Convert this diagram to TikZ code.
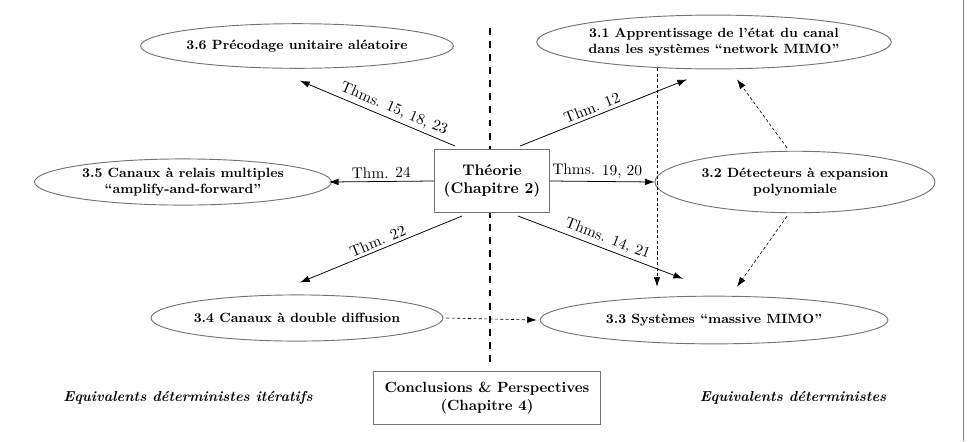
\documentclass[tikz,border=0pt]{standalone}
\usetikzlibrary{shapes.geometric,arrows.meta,calc}
\begin{document}
\begin{tikzpicture}[x=0.65pt,y=-0.65pt,
  ell/.style={ellipse, draw=black!55, line width=0.6pt, inner sep=0pt, align=center, font=\fontsize{8.7}{10.6}\selectfont\bfseries},
  boxnode/.style={rectangle, draw=black!55, line width=0.6pt, fill=white, align=center, font=\bfseries},
  arr/.style={-{Latex[length=2.2mm,width=1.5mm]}, line width=0.5pt},
  darr/.style={-{Latex[length=2.2mm,width=1.5mm]}, line width=0.4pt, dash pattern=on 2pt off 1.5pt},
  lbl/.style={sloped, above, font=\normalsize, inner sep=2pt},
  sidetxt/.style={font=\fontsize{9.4}{11}\selectfont\bfseries\itshape}]
\useasboundingbox (0,0) rectangle (972,441);
% frame line at right
\coordinate (rt) at (963,0);
\coordinate (rb) at (963,441);
\draw[black!50, line width=0.6pt] (rt) -- (rb);
% central dashed separator
\coordinate (dtop) at (490,28);
\coordinate (dbot) at (490,368);
\draw[line width=1.1pt, dash pattern=on 4.5pt off 4pt] (dtop) -- (dbot);

\node[boxnode, minimum width=75pt, minimum height=41pt] (th) at (492,181) {Th\'eorie\\(Chapitre 2)};
\node[boxnode, minimum width=148pt, minimum height=34pt, font=\fontsize{9.6}{11.5}\selectfont\bfseries] (conc) at (487,398) {Conclusions \& Perspectives\\(Chapitre 4)};

\node[ell, minimum width=190pt, minimum height=29pt] (e36) at (297,46) {3.6 Pr\'ecodage unitaire al\'eatoire};
\node[ell, minimum width=229pt, minimum height=35pt] (e31) at (714,42) {3.1 Apprentissage de l'\'etat du canal\\dans les syst\`emes ``network MIMO''};
\node[ell, minimum width=193pt, minimum height=30pt] (e35) at (183,182) {3.5 Canaux \`a relais multiples\\``amplify-and-forward''};
\node[ell, minimum width=182pt, minimum height=40pt] (e32) at (795,182) {3.2 D\'etecteurs \`a expansion\\polynomiale};
\node[ell, minimum width=188pt, minimum height=30pt] (e34) at (297,318) {3.4 Canaux \`a double diffusion};
\node[ell, minimum width=226pt, minimum height=31pt] (e33) at (714,320) {3.3 Syst\`emes ``massive MIMO''};

\node[sidetxt] (lt) at (188,398) {Equivalents d\'eterministes it\'eratifs};
\node[sidetxt] (rtx) at (793,398) {Equivalents d\'eterministes};

% solid arrows from Theorie
\draw[arr] ($(th.north)+(-37,-3)$) -- node[lbl, pos=0.42] {Thms. 15, 18, 23} ($(e36.south)+(3,12)$);
\draw[arr] ($(th.north)+(28,-3)$) -- node[lbl, pos=0.45] {Thm. 12} ($(e31.south)+(-27,10)$);
\draw[arr] (th.west) -- node[lbl, pos=0.5] {Thm. 24} ($(e35.east)+(-3,0)$);
\draw[arr] (th.east) -- node[lbl, pos=0.45] {Thms. 19, 20} (e32.west);
\draw[arr] ($(th.south)+(-30,3)$) -- node[lbl, pos=0.5] {Thm. 22} ($(e34.north)+(3,-12)$);
\draw[arr] ($(th.south)+(26,3)$) -- node[lbl, pos=0.52] {Thms. 14, 21} ($(e33.north)+(-31,-17)$);

% dashed arrows
\draw[darr] ($(e31.south)+(-57,-1)$) -- ($(e33.north)+(-57,-9)$);
\draw[darr] ($(e32.north)+(-8,-3)$) -- ($(e31.south)+(23,10)$);
\draw[darr] ($(e32.south)+(-8,3)$) -- ($(e33.north)+(23,-9)$);
\draw[darr] ($(e34.east)+(3,0)$) -- ($(e33.west)+(-3,0)$);
\end{tikzpicture}
\end{document}
